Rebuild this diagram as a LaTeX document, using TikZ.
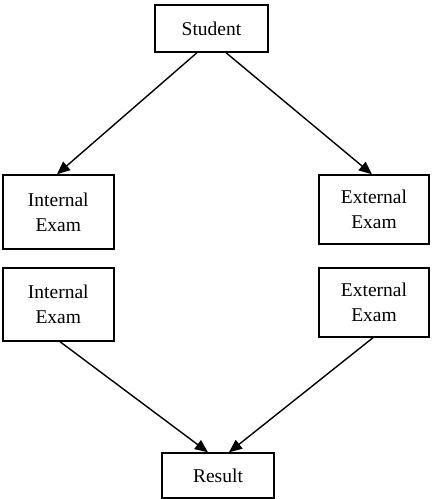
\documentclass[tikz,border=0pt]{standalone}
\usepackage{fontspec}
\setmainfont{Liberation Serif}
\usetikzlibrary{arrows.meta}
\begin{document}
\begin{tikzpicture}[x=1pt,y=-1pt,
  box/.style={draw, line width=1.4pt, inner sep=0pt, align=center,
    font=\fontsize{19.5}{25}\selectfont},
  conn/.style={line width=1.4pt, -{Triangle[length=13pt,width=11pt]}}]
\useasboundingbox (0,0) rectangle (435,499);
\node[box, minimum width=113pt, minimum height=47pt] (student) at (211.5,28.5) {Student};
\node[box, minimum width=111pt, minimum height=74pt] (int1) at (58.3,212) {Internal\\Exam};
\node[box, minimum width=111pt, minimum height=73pt] (int2) at (58.3,304.5) {Internal\\Exam};
\node[box, minimum width=110pt, minimum height=69pt] (ext1) at (374,209.5) {External\\Exam};
\node[box, minimum width=110pt, minimum height=69pt] (ext2) at (374,302.5) {External\\Exam};
\node[box, minimum width=112pt, minimum height=45pt] (result) at (218,475.5) {Result};
\draw[conn] (student.south -| 197,0) -- (int1.north -| 57,0);
\draw[conn] (student.south -| 226,0) -- (ext1.north -| 372,0);
\draw[conn] (int2.south -| 60,0) -- (result.north -| 208,0);
\draw[conn] (ext2.south -| 373,0) -- (result.north -| 229,0);
\end{tikzpicture}
\end{document}
